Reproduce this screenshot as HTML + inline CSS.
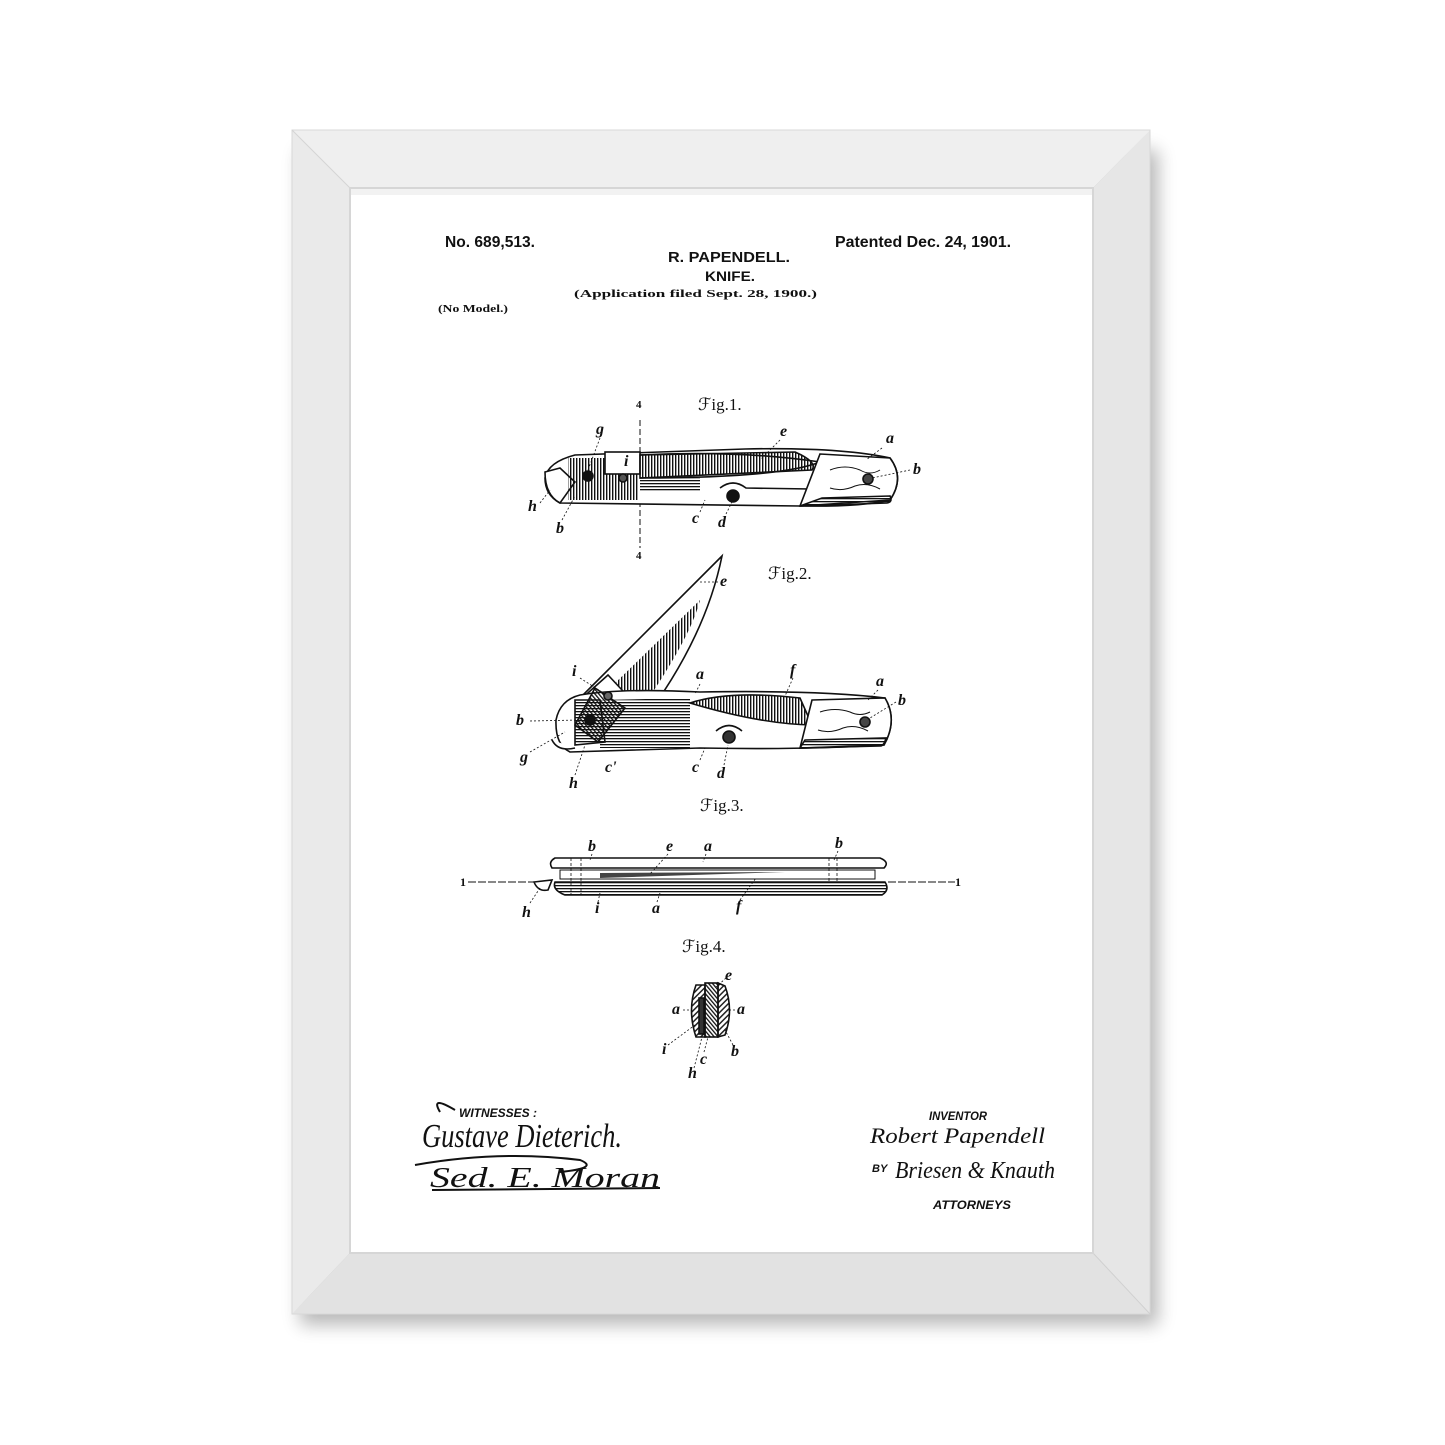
<!DOCTYPE html>
<html><head><meta charset="utf-8"><style>
html,body{margin:0;padding:0;background:#fff;}
svg{display:block;}
</style></head><body>
<svg width="1445" height="1445" viewBox="0 0 1445 1445" xmlns="http://www.w3.org/2000/svg">
<defs>
<filter id="sh" x="-10%" y="-10%" width="120%" height="130%"><feGaussianBlur stdDeviation="9"/></filter>
<filter id="ish" x="-5%" y="-5%" width="110%" height="110%"><feGaussianBlur stdDeviation="3"/></filter>
<pattern id="hv" width="3" height="3" patternUnits="userSpaceOnUse"><rect width="1.4" height="3" fill="#111"/></pattern>
<pattern id="hh" width="3" height="3" patternUnits="userSpaceOnUse"><rect width="3" height="1.3" fill="#111"/></pattern>
<pattern id="hd" width="3" height="3" patternUnits="userSpaceOnUse" patternTransform="rotate(-40)"><rect width="1.3" height="3" fill="#111"/></pattern>
<pattern id="hx" width="4" height="4" patternUnits="userSpaceOnUse" patternTransform="rotate(45)"><rect width="1.5" height="4" fill="#222"/></pattern>
</defs>
<rect width="1445" height="1445" fill="#fff"/>
<!-- frame shadow -->
<rect x="300" y="150" width="858" height="1175" fill="#000" opacity="0.28" filter="url(#sh)"/>
<!-- frame -->
<polygon points="292,130 1150,130 1093,188 350,188" fill="#efefef"/>
<polygon points="292,130 350,188 350,1253 292,1314" fill="#eaeaea"/>
<polygon points="1150,130 1150,1314 1093,1253 1093,188" fill="#e6e6e6"/>
<polygon points="292,1314 350,1253 1093,1253 1150,1314" fill="#e2e2e2"/>
<rect x="292" y="130" width="858" height="1184" fill="none" stroke="#d8d8d8" stroke-width="1"/>
<line x1="292" y1="130" x2="350" y2="188" stroke="#d4d4d4"/>
<line x1="1150" y1="1314" x2="1093" y2="1253" stroke="#d0d0d0"/>
<rect x="350" y="188" width="743" height="1065" fill="#fff"/>
<rect x="350" y="188" width="743" height="1065" fill="none" stroke="#d6d6d6" stroke-width="2"/>
<rect x="351" y="189" width="741" height="6" fill="#000" opacity="0.05"/>

<g font-family="'Liberation Sans Narrow','Liberation Sans',sans-serif" font-weight="bold" fill="#111">
<text x="445" y="247" font-size="16" textLength="90" lengthAdjust="spacingAndGlyphs">No. 689,513.</text>
<text x="835" y="247" font-size="16" textLength="176" lengthAdjust="spacingAndGlyphs">Patented Dec. 24, 1901.</text>
<text x="668" y="262" font-size="15" textLength="122" lengthAdjust="spacingAndGlyphs">R. PAPENDELL.</text>
<text x="705" y="281" font-size="14" textLength="50" lengthAdjust="spacingAndGlyphs">KNIFE.</text>
</g>
<g font-family="'Liberation Serif',serif" font-weight="bold" fill="#111">
<text x="574" y="297" font-size="10" textLength="243" lengthAdjust="spacingAndGlyphs">(Application filed Sept. 28, 1900.)</text>
<text x="438" y="312" font-size="11" textLength="70" lengthAdjust="spacingAndGlyphs">(No Model.)</text>
</g>

<!-- fig labels -->
<g font-family="'Liberation Serif',serif" fill="#111" font-size="17">
<text x="698" y="410">ℱig.1.</text>
<text x="768" y="579">ℱig.2.</text>
<text x="700" y="811">ℱig.3.</text>
<text x="682" y="952">ℱig.4.</text>
</g>

<g stroke="#111" fill="none" stroke-width="1.6">
<!-- Fig 1 -->
<line x1="640" y1="420" x2="640" y2="548" stroke-dasharray="6,3" stroke-width="1"/>
<path d="M575,455 L745,449 Q840,447 890,458 Q905,478 890,500 Q860,507 800,506 L560,503 Q545,495 545,478 Q548,462 575,455 Z" fill="#fff"/>
<path d="M545,472 L560,468 L575,482 L560,503 Q545,495 545,472 Z" fill="#fff"/>
<rect x="568" y="458" width="70" height="42" fill="url(#hv)" stroke="none"/>
<rect x="605" y="452" width="35" height="22" fill="#fff"/>
<path d="M640,455 L795,452 Q818,462 812,470 L640,478 Z" fill="url(#hv)"/>
<path d="M640,455 Q740,450 820,462 Q780,478 640,478" fill="none"/>
<path d="M640,478 L700,478 L700,492 L640,492 Z" fill="url(#hh)" stroke="none"/>
<path d="M720,488 Q733,478 746,488 L810,489 L800,506" fill="none"/>
<circle cx="733" cy="496" r="6" fill="#111"/>
<path d="M820,454 L890,458 Q905,478 890,500 L800,506 Z" fill="#fff"/>
<path d="M822,498 L890,496 Q893,502 887,503 L800,506 Z" fill="url(#hh)"/>
<path d="M830,470 q15,-6 30,0 q10,6 20,0 M830,488 q12,4 25,-2 q12,-4 25,3" stroke-width="1"/>
<circle cx="868" cy="479" r="5" fill="#444"/>
<circle cx="588" cy="476" r="5" fill="#111"/>
<circle cx="623" cy="478" r="4" fill="#555"/>

<!-- Fig 2 -->
<path d="M578,700 L722,556 Q705,640 640,725 L615,700 Z" fill="#fff"/>
<path d="M608,690 L700,600 Q690,640 635,718 Z" fill="url(#hv)" stroke="none"/>
<path d="M580,700 L608,675 L636,705 L608,730 Z" fill="#fff"/>
<path d="M580,695 Q620,688 700,692 Q820,690 885,698 Q898,720 884,745 Q800,750 700,748 L570,752 Q555,745 556,720 Q560,700 580,695 Z" fill="#fff"/>
<path d="M600,700 L690,698 L690,748 L600,748 Z" fill="url(#hh)" stroke="none"/>
<path d="M690,703 Q730,690 800,698 L812,725 Q760,724 690,703 Z" fill="url(#hv)"/>
<path d="M575,700 L600,700 L605,742 L575,745 Z" fill="url(#hh)"/>
<path d="M595,688 L625,708 L598,742 L575,725 Z" fill="url(#hd)"/>
<circle cx="590" cy="720" r="5" fill="#111"/>
<circle cx="608" cy="696" r="4" fill="#666"/>
<path d="M552,740 Q558,752 575,748" fill="#fff"/>
<path d="M716,731 Q729,720 742,731" />
<circle cx="729" cy="737" r="6" fill="#333"/>
<path d="M812,700 L885,698 Q898,720 884,745 L800,748 Z" fill="#fff"/>
<path d="M805,740 L886,738 Q884,746 880,746 L800,748 Z" fill="url(#hh)"/>
<path d="M820,712 q15,-5 30,0 q10,5 20,0 M818,730 q12,4 25,-2 q12,-4 25,3" stroke-width="1"/>
<circle cx="865" cy="722" r="5" fill="#444"/>

<!-- Fig 3 -->
<line x1="468" y1="882" x2="535" y2="882" stroke-width="1" stroke-dasharray="8,2"/>
<line x1="888" y1="882" x2="955" y2="882" stroke-width="1" stroke-dasharray="8,2"/>
<path d="M555,858 L880,858 Q890,862 884,868 L552,868 Q548,862 555,858 Z" fill="#fff"/>
<rect x="560" y="870" width="315" height="9" fill="#fff" stroke-width="1"/>
<path d="M600,873 L785,872 L600,878 Z" fill="#444" stroke="none"/>
<path d="M555,882 L885,882 Q890,890 882,895 L565,895 Q552,890 555,882 Z" fill="url(#hh)"/>
<path d="M534,882 L552,880 L548,890 Q538,892 534,882 Z" fill="#fff"/>
<line x1="571" y1="858" x2="571" y2="895" stroke-width="0.8" stroke-dasharray="3,2"/>
<line x1="581" y1="858" x2="581" y2="895" stroke-width="0.8" stroke-dasharray="3,2"/>
<line x1="829" y1="858" x2="829" y2="882" stroke-width="0.8" stroke-dasharray="3,2"/>
<line x1="837" y1="858" x2="837" y2="882" stroke-width="0.8" stroke-dasharray="3,2"/>

<!-- Fig 4 -->
<path d="M696,985 L705,985 L705,1037 L696,1037 Q687,1010 696,985 Z" fill="url(#hx)"/>
<path d="M718,983 L725,986 Q734,1010 725,1035 L718,1037 Z" fill="url(#hx)"/>
<rect x="705" y="983" width="13" height="54" fill="url(#hd)"/>
<rect x="699" y="998" width="5" height="36" fill="#333"/>
</g>

<!-- letter labels -->
<g font-family="'Liberation Serif',serif" font-style="italic" font-weight="bold" fill="#111" font-size="16">
<text x="596" y="434">g</text><text x="624" y="466">i</text><text x="780" y="436">e</text><text x="886" y="443">a</text><text x="913" y="474">b</text>
<text x="528" y="511">h</text><text x="556" y="533">b</text><text x="692" y="523">c</text><text x="718" y="527">d</text>
<text x="636" y="408" font-size="11" font-style="normal">4</text><text x="636" y="559" font-size="11" font-style="normal">4</text>
<text x="720" y="586">e</text><text x="572" y="676">i</text><text x="696" y="679">a</text><text x="790" y="675">f</text><text x="876" y="686">a</text><text x="898" y="705">b</text>
<text x="516" y="725">b</text><text x="520" y="762">g</text><text x="569" y="788">h</text><text x="605" y="772">c'</text><text x="692" y="772">c</text><text x="717" y="778">d</text>
<text x="588" y="851">b</text><text x="666" y="851">e</text><text x="704" y="851">a</text><text x="835" y="848">b</text>
<text x="522" y="917">h</text><text x="595" y="913">i</text><text x="652" y="913">a</text><text x="736" y="911">f</text>
<text x="725" y="980">e</text><text x="672" y="1014">a</text><text x="737" y="1014">a</text><text x="662" y="1054">i</text><text x="731" y="1056">b</text><text x="700" y="1064">c</text><text x="688" y="1078">h</text>
<text x="460" y="886" font-size="12" font-style="normal">1</text><text x="955" y="886" font-size="12" font-style="normal">1</text>
</g>
<g stroke="#111" stroke-width="0.8" stroke-dasharray="2,2" fill="none">
<line x1="600" y1="438" x2="588" y2="470"/><line x1="780" y1="440" x2="760" y2="460"/><line x1="882" y1="448" x2="866" y2="460"/><line x1="910" y1="470" x2="872" y2="478"/>
<line x1="540" y1="503" x2="550" y2="490"/><line x1="562" y1="520" x2="575" y2="496"/><line x1="700" y1="512" x2="705" y2="500"/><line x1="726" y1="514" x2="732" y2="502"/>
<line x1="718" y1="582" x2="700" y2="582"/><line x1="580" y1="678" x2="605" y2="694"/><line x1="700" y1="684" x2="695" y2="694"/><line x1="793" y1="678" x2="785" y2="696"/><line x1="878" y1="690" x2="868" y2="700"/><line x1="896" y1="702" x2="870" y2="718"/>
<line x1="530" y1="721" x2="580" y2="720"/><line x1="530" y1="752" x2="565" y2="732"/><line x1="575" y1="775" x2="585" y2="745"/><line x1="700" y1="760" x2="705" y2="748"/><line x1="724" y1="765" x2="728" y2="745"/>
<line x1="592" y1="854" x2="590" y2="860"/><line x1="668" y1="854" x2="650" y2="874"/><line x1="706" y1="854" x2="703" y2="862"/><line x1="838" y1="851" x2="834" y2="860"/>
<line x1="530" y1="903" x2="540" y2="888"/><line x1="598" y1="902" x2="600" y2="893"/><line x1="657" y1="902" x2="660" y2="893"/><line x1="740" y1="900" x2="756" y2="878"/>
<line x1="726" y1="978" x2="715" y2="988"/><line x1="683" y1="1010" x2="692" y2="1010"/><line x1="735" y1="1010" x2="728" y2="1010"/><line x1="668" y1="1045" x2="695" y2="1025"/><line x1="733" y1="1045" x2="725" y2="1030"/><line x1="704" y1="1052" x2="708" y2="1037"/><line x1="694" y1="1068" x2="702" y2="1037"/>
</g>

<!-- signatures -->
<g font-family="'Liberation Sans',sans-serif" font-style="italic" font-weight="bold" fill="#111">
<text x="459" y="1117" font-size="12">WITNESSES :</text>
<text x="929" y="1120" font-size="12" textLength="58" lengthAdjust="spacingAndGlyphs">INVENTOR</text>
<text x="872" y="1172" font-size="11">BY</text>
<text x="933" y="1209" font-size="12" textLength="78" lengthAdjust="spacingAndGlyphs">ATTORNEYS</text>
</g>
<g font-family="'Liberation Serif',serif" font-style="italic" fill="#111">
<text x="422" y="1147" font-size="34" textLength="200" lengthAdjust="spacingAndGlyphs">Gustave Dieterich.</text>
<text x="870" y="1143" font-size="22" textLength="175" lengthAdjust="spacingAndGlyphs">Robert Papendell</text>
<text x="895" y="1178" font-size="24" textLength="160" lengthAdjust="spacingAndGlyphs">Briesen &amp; Knauth</text>
<text x="430" y="1187" font-size="28" textLength="230" lengthAdjust="spacingAndGlyphs">Sed. E. Moran</text>
</g>
<g stroke="#111" fill="none" stroke-width="2">
<path d="M415,1165 Q500,1150 580,1160 Q600,1168 560,1172"/>
<path d="M432,1190 L660,1188"/>
<path d="M440,1112 Q430,1095 455,1110"/>
</g>
</svg>
</body></html>
